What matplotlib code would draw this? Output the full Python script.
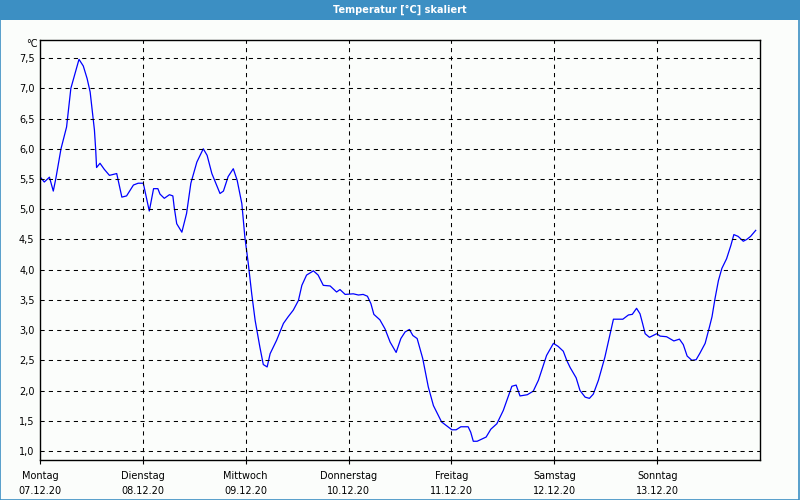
import matplotlib
matplotlib.use("Agg")
import matplotlib.pyplot as plt
from matplotlib.patches import Rectangle

# Stunden ab Montag 00:00 und Temperaturwerte
hours = [0.2, 1.0, 2.2, 3.1, 3.7, 4.9, 6.2, 7.2, 9.1, 10.1, 11.0, 11.7, 12.7, 13.0, 13.2,
         14.0, 15.0, 16.2, 17.9, 18.4, 19.1, 20.2, 21.8, 22.9, 24.1, 25.5, 26.5, 27.5,
         28.0, 29.0, 30.2, 31.0, 31.3, 31.9, 33.1, 34.2, 35.2, 36.6, 38.1, 39.0, 40.1,
         42.0, 42.8, 43.9, 45.1, 46.0, 47.1, 47.8, 48.6, 49.4, 50.2, 51.3, 52.1, 53.0,
         53.7, 55.2, 56.8, 57.9, 59.1, 60.3, 61.1, 62.2, 63.8, 64.9, 66.1, 67.7, 69.2,
         70.0, 71.2, 73.1, 74.3, 75.4, 76.4, 77.2, 77.9, 79.3, 80.5, 81.7, 83.1, 84.2,
         85.2, 86.2, 87.0, 88.0, 89.3, 90.6, 91.8, 93.7, 96.1, 97.1, 98.2, 99.9, 100.5,
         101.1, 102.0, 104.1, 105.2, 106.6, 108.1, 110.1, 111.1, 112.0, 113.7, 115.1,
         116.3, 118.2, 119.8, 120.9, 122.1, 122.9, 123.7, 125.1, 126.0, 127.2, 128.2,
         129.1, 130.3, 131.8, 133.8, 136.0, 137.3, 138.2, 139.2, 140.0, 140.6, 141.2,
         142.2, 143.9, 144.7, 146.2, 147.9, 149.2, 150.1, 151.0, 152.1, 153.1, 154.0,
         155.2, 156.2, 156.8, 157.5, 158.3, 159.1, 160.2, 161.2, 161.9, 162.9, 164.1,
         164.9, 165.8, 167.0]
temps = [5.52, 5.45, 5.53, 5.30, 5.51, 6.00, 6.36, 7.00, 7.48, 7.37, 7.16, 6.94, 6.31, 5.98, 5.69,
         5.76, 5.66, 5.56, 5.59, 5.43, 5.20, 5.22, 5.40, 5.43, 5.43, 4.97, 5.34, 5.34,
         5.25, 5.18, 5.24, 5.22, 5.04, 4.76, 4.62, 4.93, 5.43, 5.78, 6.00, 5.89, 5.59,
         5.26, 5.30, 5.54, 5.67, 5.48, 5.09, 4.54, 4.10, 3.60, 3.16, 2.72, 2.43, 2.39,
         2.61, 2.83, 3.11, 3.22, 3.33, 3.49, 3.74, 3.91, 3.98, 3.91, 3.74, 3.73, 3.63,
         3.67, 3.59, 3.60, 3.58, 3.59, 3.56, 3.44, 3.26, 3.17, 3.02, 2.80, 2.63, 2.86,
         2.97, 3.01, 2.91, 2.86, 2.53, 2.06, 1.75, 1.48, 1.35, 1.35, 1.40, 1.40, 1.31,
         1.16, 1.16, 1.23, 1.36, 1.45, 1.67, 2.07, 2.09, 1.91, 1.93, 1.99,
         2.17, 2.58, 2.78, 2.73, 2.65, 2.50, 2.38, 2.21, 2.00, 1.89, 1.87,
         1.94, 2.17, 2.55, 3.18, 3.18, 3.25, 3.26, 3.36, 3.27, 3.11, 2.94,
         2.88, 2.94, 2.90, 2.89, 2.82, 2.85, 2.76, 2.57, 2.50, 2.51, 2.62,
         2.78, 3.05, 3.22, 3.52, 3.82, 4.02, 4.18, 4.40, 4.58, 4.55, 4.47,
         4.50, 4.55, 4.65]

days = ["Montag", "Dienstag", "Mittwoch", "Donnerstag", "Freitag", "Samstag", "Sonntag"]
dates = ["07.12.20", "08.12.20", "09.12.20", "10.12.20", "11.12.20", "12.12.20", "13.12.20"]
y_ticks = [1.0, 1.5, 2.0, 2.5, 3.0, 3.5, 4.0, 4.5, 5.0, 5.5, 6.0, 6.5, 7.0, 7.5]

plt.rcParams['font.family'] = ['DejaVu Sans']
bg = '#fbfdfb'
fig = plt.figure(figsize=(8, 5), dpi=100, facecolor=bg)

# Titelleiste und Rahmen
fig.patches.append(Rectangle((0, 0.96), 1, 0.04, transform=fig.transFigure,
                             facecolor='#3c8fc3', edgecolor='none'))
fig.patches.append(Rectangle((0.0006, 0.001), 0.9982, 0.998, transform=fig.transFigure,
                             facecolor='none', edgecolor='#3c8fc3', linewidth=1.2))
fig.text(0.5, 0.981, "Temperatur [°C] skaliert", color='white', fontsize=7,
         fontweight='bold', ha='center', va='center')

ax = fig.add_axes([0.05, 0.08, 0.9, 0.84])
ax.set_facecolor(bg)
ax.plot(hours, temps, color='#0000ff', linewidth=0.9)

ax.set_xlim(0, 168)
ax.set_ylim(0.85, 7.8)
ax.set_yticks(y_ticks)
ax.set_yticklabels([f"{v:.1f}".replace('.', ',') for v in y_ticks])
ax.set_xticks([24 * i for i in range(7)])
ax.set_xticklabels([d + "\n" + t for d, t in zip(days, dates)], linespacing=1.6)

for v in y_ticks:
    ax.axhline(v, color='black', linewidth=0.75, dashes=(4, 4))
for i in range(1, 7):
    ax.axvline(24 * i, color='black', linewidth=0.75, dashes=(4, 4))

ax.tick_params(axis='y', length=0, pad=4, labelsize=7)
ax.tick_params(axis='x', length=3, width=0.8, pad=5, labelsize=7)
for s in ax.spines.values():
    s.set_linewidth(1.0)

fig.text(0.047, 0.912, "°C", fontsize=7, ha='right', va='center')

fig.savefig("out.png", dpi=100, facecolor=bg)
